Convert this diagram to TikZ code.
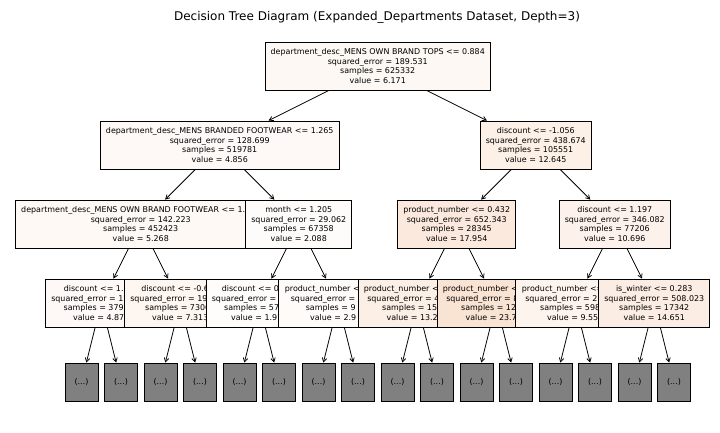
\documentclass[tikz,border=0pt]{standalone}
\usepackage{fontspec}
\setmainfont{DejaVu Sans}
\usetikzlibrary{arrows.meta}
\definecolor{skor}{RGB}{229,129,57}
\definecolor{greyleaf}{RGB}{128,128,128}
\begin{document}
\begin{tikzpicture}[x=1pt,y=-1pt,
  treebox/.style={draw, line width=0.8pt, align=center, inner xsep=5.5pt, inner ysep=2pt,
    minimum height=48pt, font=\fontsize{7.95}{9.4}\selectfont},
  leafbox/.style={draw, line width=0.8pt, fill=greyleaf, minimum width=33pt, minimum height=38pt,
    inner sep=0pt, font=\fontsize{7.95}{9.4}\selectfont},
  arr/.style={-{Straight Barb[length=4pt,width=4.5pt]}, line width=0.75pt}]
\useasboundingbox[fill=white] (0,0) rectangle (720,432);

\node[font=\fontsize{12}{14}\selectfont] (title) at (377,17)
  {Decision Tree Diagram (Expanded\_Departments Dataset, Depth=3)};

% level 0
\node[treebox, fill=skor!5.9!white] (root) at (377.75,66)
  {department\_desc\_MENS OWN BRAND TOPS <= 0.884\\squared\_error = 189.531\\samples = 625332\\value = 6.171};

% left subtree (preorder)
\node[treebox, fill=skor!4.6!white] (l1l) at (219.75,145)
  {department\_desc\_MENS BRANDED FOOTWEAR <= 1.265\\squared\_error = 128.699\\samples = 519781\\value = 4.856};
\node[treebox, fill=skor!5!white, minimum width=249.5pt] (l2a) at (140.75,224)
  {department\_desc\_MENS OWN BRAND FOOTWEAR <= 1.\phantom{234}\\squared\_error = 142.223\\samples = 452423\\value = 5.268};
\node[treebox, fill=skor!4.6!white, minimum width=110.5pt] (l3a) at (101.25,303)
  {discount <= 1.\phantom{234}\\squared\_error = 1\phantom{23.456}\\samples = 379\phantom{363}\\value = 4.87\phantom{4}};
\node[treebox, fill=skor!6.9!white, minimum width=108.5pt] (l3b) at (180.25,303)
  {discount <= -0.6\phantom{12}\\squared\_error = 19\phantom{8.765}\\samples = 7306\phantom{0}\\value = 7.313};
\node[treebox, fill=skor!2!white] (l2m) at (298.75,224)
  {month <= 1.205\\squared\_error = 29.062\\samples = 67358\\value = 2.088};
\node[treebox, fill=skor!1.8!white, minimum width=104.5pt] (l3c) at (259.25,303)
  {discount <= 0\phantom{.123}\\squared\_error = \phantom{21.345}\\samples = 57\phantom{456}\\value = 1.91\phantom{2}};
\node[treebox, fill=skor!2.8!white, minimum width=120.5pt] (l3d) at (338.25,303)
  {product\_number <\phantom{= 0.123}\\squared\_error = \phantom{45.678}\\samples = 9\phantom{123}\\value = 2.9\phantom{91}};

% right subtree (preorder)
\node[treebox, fill=skor!12!white] (l1r) at (535.75,145)
  {discount <= -1.056\\squared\_error = 438.674\\samples = 105551\\value = 12.645};
\node[treebox, fill=skor!17.1!white] (l2p) at (456.75,224)
  {product\_number <= 0.432\\squared\_error = 652.343\\samples = 28345\\value = 17.954};
\node[treebox, fill=skor!12.5!white, minimum width=118.5pt] (l3e) at (417.25,303)
  {product\_number <\phantom{= 0.123}\\squared\_error = 4\phantom{12.345}\\samples = 15\phantom{123}\\value = 13.2\phantom{34}};
\node[treebox, fill=skor!22.5!white, minimum width=116.5pt] (l3f) at (496.25,303)
  {product\_number <\phantom{= 0.123}\\squared\_error = 8\phantom{12.345}\\samples = 12\phantom{345}\\value = 23.7\phantom{12}};
\node[treebox, fill=skor!10.2!white] (l2d) at (614.75,224)
  {discount <= 1.197\\squared\_error = 346.082\\samples = 77206\\value = 10.696};
\node[treebox, fill=skor!9.1!white, minimum width=120.5pt] (l3g) at (575.25,303)
  {product\_number <= \phantom{0.123}\\squared\_error = 2\phantom{98.765}\\samples = 598\phantom{64}\\value = 9.55\phantom{1}};
\node[treebox, fill=skor!13.9!white, minimum width=110.5pt] (l3h) at (654.25,303)
  {is\_winter <= 0.283\\squared\_error = 508.023\\samples = 17342\\value = 14.651};

% truncated leaves
\foreach \k in {0,...,15}
  \node[leafbox] (g\k) at ({81.5+39.5*\k},382) {(...)};

% connectors
\draw[arr] (root) -- (l1l);
\draw[arr] (root) -- (l1r);
\draw[arr] (l1l) -- (l2a);
\draw[arr] (l1l) -- (l2m);
\draw[arr] (l2a) -- (l3a);
\draw[arr] (l2a) -- (l3b);
\draw[arr] (l2m) -- (l3c);
\draw[arr] (l2m) -- (l3d);
\draw[arr] (l1r) -- (l2p);
\draw[arr] (l1r) -- (l2d);
\draw[arr] (l2p) -- (l3e);
\draw[arr] (l2p) -- (l3f);
\draw[arr] (l2d) -- (l3g);
\draw[arr] (l2d) -- (l3h);
\foreach \p/\a/\b in {l3a/0/1, l3b/2/3, l3c/4/5, l3d/6/7, l3e/8/9, l3f/10/11, l3g/12/13, l3h/14/15} {
  \draw[arr] (\p) -- (g\a);
  \draw[arr] (\p) -- (g\b);
}
\end{tikzpicture}
\end{document}
